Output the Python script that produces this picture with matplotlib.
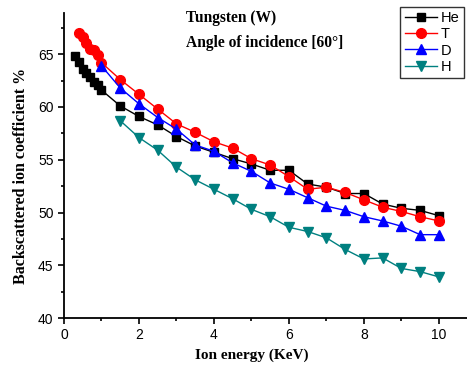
import matplotlib.pyplot as plt
from matplotlib.ticker import MultipleLocator

# Energy (KeV) for each ion
he_x = [0.3, 0.4, 0.5, 0.6, 0.7, 0.8, 0.9, 1.0, 1.5, 2.0, 2.5, 3.0, 3.5, 4.0,
        4.5, 5.0, 5.5, 6.0, 6.5, 7.0, 7.5, 8.0, 8.5, 9.0, 9.5, 10.0]
he_y = [64.8, 64.3, 63.6, 63.2, 62.8, 62.4, 62.1, 61.6, 60.1, 59.1, 58.3, 57.2, 56.3, 55.7,
        55.1, 54.6, 54.0, 54.0, 52.7, 52.4, 51.8, 51.8, 50.8, 50.4, 50.2, 49.7]

t_x = [0.4, 0.5, 0.6, 0.7, 0.8, 0.9, 1.0, 1.5, 2.0, 2.5, 3.0, 3.5, 4.0,
       4.5, 5.0, 5.5, 6.0, 6.5, 7.0, 7.5, 8.0, 8.5, 9.0, 9.5, 10.0]
t_y = [67.0, 66.6, 66.1, 65.5, 65.4, 64.9, 64.2, 62.6, 61.2, 59.8, 58.4, 57.6, 56.7,
       56.1, 55.1, 54.5, 53.4, 52.2, 52.4, 51.9, 51.2, 50.5, 50.1, 49.6, 49.2]

d_x = [1.0, 1.5, 2.0, 2.5, 3.0, 3.5, 4.0, 4.5, 5.0, 5.5, 6.0,
       6.5, 7.0, 7.5, 8.0, 8.5, 9.0, 9.5, 10.0]
d_y = [63.9, 61.8, 60.3, 59.0, 57.9, 56.4, 55.8, 54.7, 53.9, 52.8, 52.2,
       51.4, 50.6, 50.2, 49.6, 49.2, 48.7, 47.9, 47.9]

h_x = [1.5, 2.0, 2.5, 3.0, 3.5, 4.0, 4.5, 5.0, 5.5, 6.0,
       6.5, 7.0, 7.5, 8.0, 8.5, 9.0, 9.5, 10.0]
h_y = [58.7, 57.1, 55.9, 54.3, 53.1, 52.2, 51.3, 50.3, 49.6, 48.6,
       48.2, 47.6, 46.5, 45.6, 45.7, 44.7, 44.4, 43.9]

serif = 'Liberation Serif'
sans = 'Liberation Sans'

fig = plt.figure(figsize=(4.67, 3.72), dpi=100)
ax = fig.add_axes([0.137, 0.145, 0.863, 0.82])

ax.plot(he_x, he_y, color='black', marker='s', markersize=6, lw=1, label='He')
ax.plot(t_x, t_y, color='red', marker='o', markersize=7, lw=1, label='T')
ax.plot(d_x, d_y, color='blue', marker='^', markersize=7, lw=1, label='D')
ax.plot(h_x, h_y, color='#008080', marker='v', markersize=7, lw=1, label='H')

ax.set_xlim(0, 10.75)
ax.set_ylim(40, 68.9)
ax.xaxis.set_major_locator(MultipleLocator(2))
ax.xaxis.set_minor_locator(MultipleLocator(1))
ax.yaxis.set_major_locator(MultipleLocator(5))
ax.yaxis.set_minor_locator(MultipleLocator(2.5))

for side in ['top', 'right']:
    ax.spines[side].set_visible(False)
for side in ['left', 'bottom']:
    ax.spines[side].set_linewidth(1.3)

ax.tick_params(which='major', length=4, width=1.2, direction='out', labelsize=10)
ax.tick_params(which='minor', length=2.5, width=1.2, direction='out')
for lab in ax.get_xticklabels() + ax.get_yticklabels():
    lab.set_fontfamily(sans)

ax.set_xlabel('Ion energy (KeV)', fontfamily=serif, fontweight='bold', fontsize=11)
ax.set_ylabel('Backscattered ion coefficient %', fontfamily=serif, fontweight='bold',
              fontsize=11.5)
ax.xaxis.set_label_coords(0.467, -0.121)
ax.xaxis.label.set_va('center')
ax.yaxis.set_label_coords(-0.107, 0.466)
ax.yaxis.label.set_va('center')

ax.text(0.303, 0.984, 'Tungsten (W)', transform=ax.transAxes, fontfamily=serif,
        fontweight='bold', fontsize=11.2, va='center')
ax.text(0.303, 0.902, 'Angle of incidence [60°]', transform=ax.transAxes, fontfamily=serif,
        fontweight='bold', fontsize=11.2, va='center')

leg = ax.legend(loc='upper right', bbox_to_anchor=(1.0, 1.03), frameon=True, fancybox=False,
                edgecolor='black', prop={'family': sans, 'size': 10.5}, handlelength=2.2,
                handletextpad=0.3, borderpad=0.3, labelspacing=0.15, borderaxespad=0.2)
leg.get_frame().set_linewidth(1.0)

plt.savefig('out.png', dpi=100)
plt.close()
